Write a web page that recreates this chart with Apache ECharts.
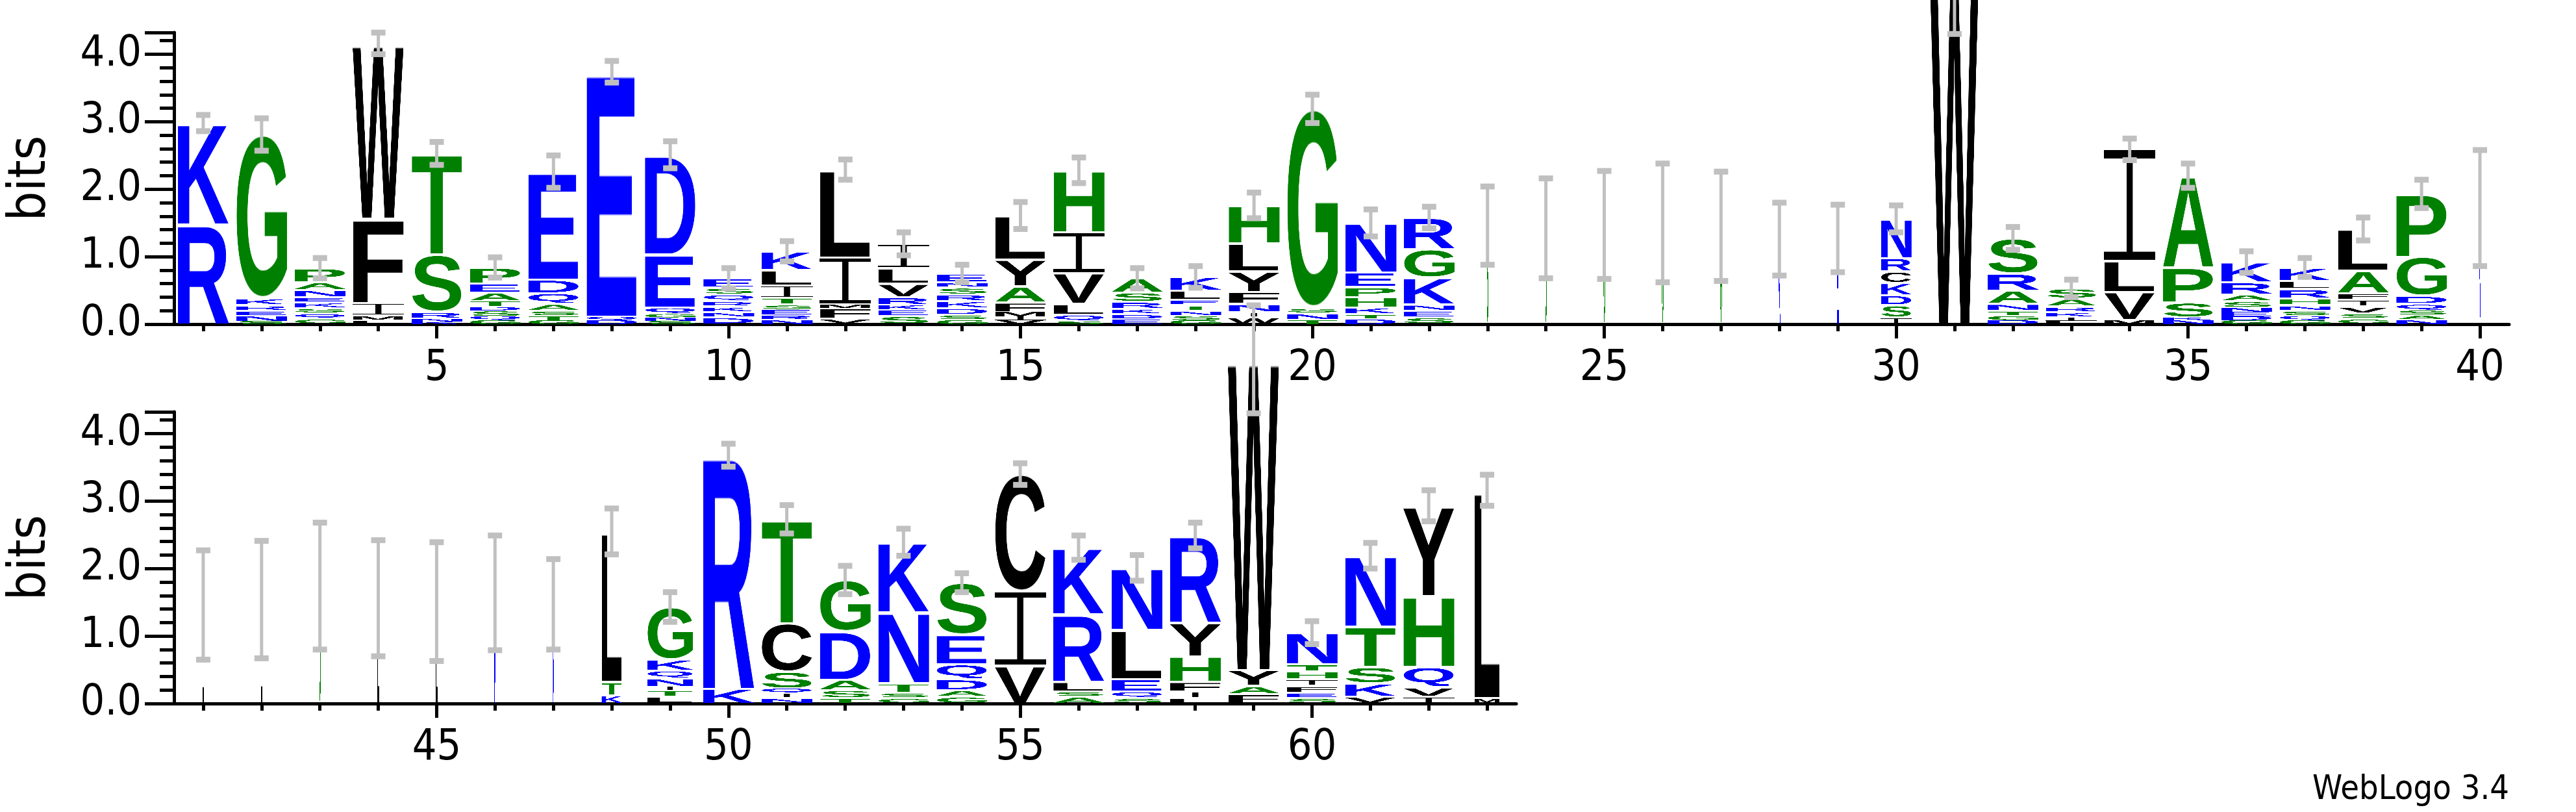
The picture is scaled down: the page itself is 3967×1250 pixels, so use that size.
<!DOCTYPE html><html><head><meta charset="utf-8">
<script src="https://cdn.jsdelivr.net/npm/echarts@6/dist/echarts.min.js"></script>
<style>html,body{margin:0;background:#fff}#c{width:3967px;height:1250px}</style></head>
<body><div id="c"></div><script>
const positions = [1,2,3,4,5,6,7,8,9,10,11,12,13,14,15,16,17,18,19,20,21,22,23,24,25,26,27,28,29,30,31,32,33,34,35,36,37,38,39,40,
  41,42,43,44,45,46,47,48,49,50,51,52,53,54,55,56,57,58,59,60,61,62,63];
// letters bottom -> top, heights in bits
const stacks = [
 [['R',1.48],['K',1.50]],
 [['S',0.05],['N',0.07],['E',0.08],['R',0.08],['K',0.1],['G',2.43]],
 [['G',0.08],['Q',0.08],['S',0.08],['K',0.08],['E',0.08],['N',0.11],['A',0.11],['P',0.21]],
 [['L',0.05],['M',0.08],['I',0.18],['F',1.25],['W',2.6]],
 [['K',0.04],['N',0.04],['R',0.1],['S',0.85],['T',1.5]],
 [['G',0.06],['Q',0.06],['S',0.07],['D',0.08],['T',0.07],['A',0.13],['E',0.13],['P',0.24]],
 [['G',0.06],['T',0.06],['S',0.08],['A',0.1],['Q',0.16],['D',0.2],['E',1.6]],
 [['D',0.06],['Q',0.05],['E',3.63]],
 [['S',0.05],['N',0.05],['G',0.05],['Q',0.1],['E',0.78],['D',1.48]],
 [['D',0.1],['N',0.08],['K',0.08],['R',0.08],['Q',0.1],['S',0.1],['E',0.14]],
 [['N',0.06],['R',0.08],['E',0.07],['S',0.08],['T',0.1],['I',0.18],['L',0.23],['K',0.28]],
 [['V',0.08],['F',0.16],['M',0.05],['I',0.7],['L',1.3]],
 [['S',0.12],['E',0.1],['K',0.06],['R',0.12],['V',0.2],['L',0.23],['I',0.36]],
 [['G',0.06],['S',0.08],['D',0.1],['K',0.1],['R',0.1],['S',0.1],['N',0.08],['E',0.13]],
 [['V',0.06],['I',0.06],['M',0.06],['F',0.14],['A',0.24],['Y',0.4],['L',0.65]],
 [['S',0.04],['Q',0.1],['L',0.16],['V',0.46],['I',0.6],['H',0.92]],
 [['E',0.07],['D',0.08],['K',0.08],['R',0.1],['S',0.14],['A',0.21]],
 [['G',0.06],['S',0.06],['N',0.08],['T',0.08],['E',0.08],['L',0.14],['K',0.2]],
 [['W',0.1],['I',0.08],['N',0.12],['F',0.18],['Y',0.3],['L',0.42],['H',0.56]],
 [['T',0.06],['N',0.1],['S',0.08],['G',2.95]],
 [['D',0.07],['T',0.08],['K',0.1],['H',0.15],['P',0.15],['E',0.22],['N',0.73]],
 [['S',0.1],['E',0.1],['N',0.09],['K',0.4],['G',0.42],['R',0.47]],
 [['S',1.46]],[['G',1.42]],[['G',1.47]],[['G',1.5]],[['G',1.45]],[['K',1.26]],[['E',1.27]],
 [['I',0.1],['S',0.18],['D',0.15],['K',0.18],['C',0.17],['R',0.2],['N',0.58]],
 [['W',5.1]],
 [['D',0.06],['G',0.06],['T',0.08],['N',0.1],['A',0.2],['R',0.25],['S',0.52]],
 [['L',0.05],['I',0.05],['K',0.08],['R',0.08],['A',0.12],['S',0.15]],
 [['M',0.06],['V',0.42],['L',0.46],['I',1.65]],
 [['N',0.06],['K',0.04],['S',0.22],['P',0.52],['A',1.36]],
 [['G',0.06],['D',0.06],['E',0.06],['N',0.06],['S',0.1],['A',0.1],['R',0.18],['K',0.3]],
 [['G',0.06],['Q',0.06],['S',0.08],['N',0.08],['H',0.1],['R',0.14],['L',0.12],['K',0.2]],
 [['G',0.08],['S',0.08],['V',0.1],['I',0.1],['F',0.1],['A',0.33],['L',0.62]],
 [['N',0.06],['A',0.08],['S',0.06],['Q',0.1],['D',0.12],['G',0.58],['P',0.93]],
 [['K',1.72]],
 [['L',1.46]],[['L',1.54]],[['G',1.74]],[['L',1.56]],[['L',1.51]],[['N',1.64]],[['N',1.47]],
 [['K',0.12],['T',0.2],['L',2.23]],
 [['L',0.1],['T',0.1],['I',0.05],['N',0.12],['Q',0.12],['K',0.16],['G',0.78]],
 [['K',0.22],['R',3.46]],
 [['N',0.08],['I',0.08],['Q',0.06],['S',0.25],['C',0.72],['T',1.54]],
 [['T',0.08],['S',0.12],['A',0.15],['D',0.72],['G',0.76]],
 [['G',0.08],['S',0.08],['T',0.14],['N',1.05],['K',1.04]],
 [['G',0.1],['A',0.1],['D',0.16],['Q',0.22],['E',0.44],['S',0.77]],
 [['V',0.56],['I',1.1],['C',1.74]],
 [['A',0.1],['S',0.08],['L',0.14],['R',1.0],['K',0.99]],
 [['S',0.08],['Q',0.1],['E',0.18],['L',0.73],['N',0.92]],
 [['L',0.08],['I',0.1],['F',0.14],['H',0.38],['Y',0.5],['R',1.29]],
 [['F',0.14],['A',0.12],['Y',0.24],['W',4.6]],
 [['S',0.08],['E',0.08],['F',0.1],['I',0.1],['H',0.12],['T',0.1],['N',0.47]],
 [['V',0.1],['K',0.2],['S',0.24],['T',0.6],['N',1.05]],
 [['I',0.1],['V',0.14],['Q',0.3],['H',1.05],['Y',1.34]],
 [['M',0.08],['L',3.08]]
];
const errors = [0.12,0.24,0.15,0.16,0.17,0.15,0.24,0.16,0.2,0.15,0.15,0.15,0.17,0.13,0.2,0.19,0.15,0.16,0.19,0.21,0.2,0.16,
 0.58,0.74,0.8,0.88,0.81,0.54,0.5,0.2,0.8,0.17,0.13,0.16,0.18,0.16,0.14,0.17,0.21,0.86,
 0.81,0.87,0.94,0.86,0.88,0.85,0.67,0.34,0.22,0.17,0.21,0.21,0.2,0.14,0.16,0.18,0.19,0.19,0.8,0.17,0.19,0.23,0.23];
const widths = [1,1,1,1,1,1,1,1,1,1,1,1,1,1,1,1,1,1,1,1,1,1,0.03,0.03,0.03,0.03,0.03,0.04,0.04,0.6,0.95,1,1,1,1,1,1,1,1,0.03,
 0.03,0.03,0.03,0.03,0.03,0.03,0.03,0.4,0.9,1,1,1,1,1,1,1,1,1,1,1,1,1,0.5];
const xLabels1 = [5,10,15,20,25,30,35,40];
const xLabels2 = [45,50,55,60];
const greenSet='GSTAPH', blueSet='KRDENQ';
function color(L){return greenSet.includes(L)?'#008000':(blueSet.includes(L)?'#0000ff':'#000000');}
const cache={};
function glyph(L){
  if(cache[L]) return cache[L];
  const o=document.createElement('canvas');
  if(L==='I'){
    o.width=100;o.height=300; const g=o.getContext('2d'); g.fillStyle=color(L);
    g.fillRect(0,0,100,22); g.fillRect(0,278,100,22); g.fillRect(44,0,12,300);
    cache[L]=o; return o;
  }
  const font='bold 300px "Liberation Sans", Arial, sans-serif';
  const c=document.createElement('canvas'); c.width=10;c.height=10; const x=c.getContext('2d'); x.font=font;
  const m=x.measureText(L);
  const l=Math.ceil(m.actualBoundingBoxLeft), r=Math.ceil(m.actualBoundingBoxRight);
  const as=Math.ceil(m.actualBoundingBoxAscent), de=Math.max(0,Math.ceil(m.actualBoundingBoxDescent));
  o.width=Math.max(1,l+r); o.height=Math.max(1,as+de);
  const ox=o.getContext('2d'); ox.font=font; ox.fillStyle=color(L); ox.textBaseline='alphabetic'; ox.fillText(L,l,as);
  cache[L]=o; return o;
}
function renderItem(params, api){
  const p=api.value(0); const i=positions.indexOf(p);
  const w=widths[i]*0.88; const ch=[]; let y=0;
  for(const [L,h] of stacks[i]){
    const a=api.coord([p-w/2,y+h]), b=api.coord([p+w/2,y]);
    let top=a[1], bot=b[1]; if(bot-top>8){top+=1.5;bot-=1.5;}
    ch.push({type:'image',style:{image:glyph(L),x:a[0],y:top,width:Math.max(1,b[0]-a[0]),height:Math.max(0.6,bot-top)}});
    y+=h;
  }
  const e=errors[i]; const lo=api.coord([p,y-e]), hi=api.coord([p,y+e]);
  ch.push({type:'line',shape:{x1:lo[0],y1:lo[1],x2:hi[0],y2:hi[1]},style:{stroke:'#c0c0c0',lineWidth:5}});
  ch.push({type:'line',shape:{x1:lo[0]-11,y1:lo[1],x2:lo[0]+11,y2:lo[1]},style:{stroke:'#c0c0c0',lineWidth:9}});
  ch.push({type:'line',shape:{x1:hi[0]-11,y1:hi[1],x2:hi[0]+11,y2:hi[1]},style:{stroke:'#c0c0c0',lineWidth:9}});
  return {type:'group',children:ch};
}
const FONT='"DejaVu Sans Condensed","Liberation Sans Narrow","Liberation Sans",Arial,sans-serif';
const MAXB=Math.log2(20);
function yAx(g){return {gridIndex:g,type:'value',min:0,max:MAXB,interval:1,name:'bits',nameLocation:'middle',nameGap:180,
  nameTextStyle:{fontFamily:FONT,fontSize:80,color:'#000'},
  axisLine:{show:true,lineStyle:{color:'#000',width:5}},axisTick:{show:true,length:45,lineStyle:{width:5,color:'#000'}},
  minorTick:{show:true,splitNumber:5,length:22,lineStyle:{width:5,color:'#000'}},splitLine:{show:false},
  axisLabel:{fontFamily:FONT,fontSize:66,color:'#000',margin:50,formatter:v=>v.toFixed(1)}};}
function xAx(g,min,max,all,labels,main){
  return {gridIndex:g,type:'value',min,max,position:'bottom',splitLine:{show:false},
    axisLine:{show:main,onZero:false,lineStyle:{color:'#000',width:5}},
    axisTick:{show:true,customValues:main?all:labels,length:main?11:22,lineStyle:{width:5,color:'#000'}},
    axisLabel:{show:!main,customValues:labels,fontFamily:FONT,fontSize:66,color:'#000',margin:36}};}
const all1=positions.filter(p=>p<=40), all2=positions.filter(p=>p>40);
const chart=echarts.init(document.getElementById('c'),null,{renderer:'canvas'});
chart.setOption({animation:false,backgroundColor:'#fff',
  grid:[{left:263,top:50,width:3601,height:449},{left:263,top:634,width:2072,height:449}],
  xAxis:[xAx(0,0.5,40.5,all1,xLabels1,true),xAx(0,0.5,40.5,all1,xLabels1,false),
         xAx(1,40.5,63.5,all2,xLabels2,true),xAx(1,40.5,63.5,all2,xLabels2,false)],
  yAxis:[yAx(0),yAx(1)],
  graphic:[{type:'text',right:103,top:1190,style:{text:'WebLogo 3.4',font:'52px '+FONT,fill:'#000'}}],
  series:[
    {type:'custom',xAxisIndex:0,yAxisIndex:0,clip:false,renderItem,data:all1.map(p=>[p,0])},
    {type:'custom',xAxisIndex:2,yAxisIndex:1,clip:false,renderItem,data:all2.map(p=>[p,0])}
  ]});
</script></body></html>
